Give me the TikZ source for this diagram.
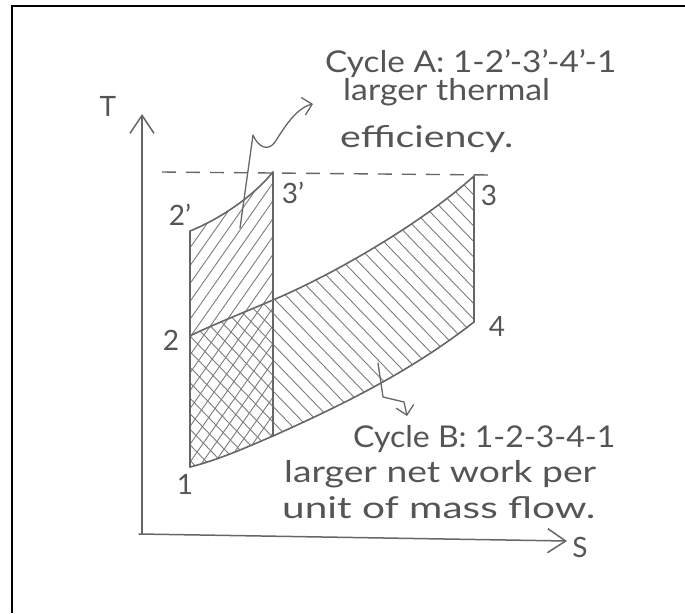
\documentclass[tikz,border=0pt]{standalone}
\usepackage{fontspec}
\setmainfont{Lato}
\usetikzlibrary{arrows.meta}
\definecolor{ink}{HTML}{666666}
\definecolor{txtc}{HTML}{555555}
\definecolor{hatch}{HTML}{7C7C7C}
\newcommand{\hw}[2]{\resizebox{#1}{\height}{#2}}
\begin{document}
\begin{tikzpicture}[x=1pt,y=-1pt,
  curve/.style={draw=ink,line width=1.6pt,line join=round,line cap=round},
  axisline/.style={draw=ink,line width=1.5pt,line cap=round,-{Straight Barb[length=18pt,width=24pt,line width=1.5pt]}},
  pointer/.style={draw=ink,line width=1.3pt,line join=round,line cap=round,-{Straight Barb[length=9pt,width=18pt,line width=1.3pt]}},
  note/.style={inner sep=0pt,text=txtc,anchor=base west,font=\fontsize{30}{32}\selectfont},
  lbl/.style={inner sep=0pt,text=txtc,font=\fontsize{28}{30}\selectfont},
  hatchline/.style={draw=hatch,line width=0.9pt}
]
\useasboundingbox (0,0) rectangle (685,613);
% frame (cropped)
\draw[line width=2.6pt,black] (12,613) -- (12,6) -- (685,6);

% key points
\coordinate (o) at (142,534);
\coordinate (oS) at (139,534);
\coordinate (tT) at (142,114);
\coordinate (tS) at (567,541);
\coordinate (p1) at (190,467);
\coordinate (p2) at (190,336);
\coordinate (p2p) at (190,231);
\coordinate (p3p) at (273,172);
\coordinate (q) at (273,300);
\coordinate (r) at (273,436);
\coordinate (p3) at (474,176);
\coordinate (p4) at (474,322);
\coordinate (d0) at (162,172);
\coordinate (d1) at (490,175);

% hatching of cycle A (/)
\begin{scope}
\clip (p1) -- (p2p) .. controls (215,221) and (250,200) .. (p3p) -- (r)
   .. controls (245,448) and (218,460) .. (p1) -- cycle;
\foreach \x in {-60,-47.5,...,290} {
  \draw[hatchline] (\x,480) -- ({\x+224},160);
}
\end{scope}
% hatching of cycle B (\)
\begin{scope}
\clip (p1) -- (p2) .. controls (205,328) and (245,312) .. (q)
   .. controls (330,276) and (420,225) .. (p3) -- (p4)
   .. controls (410,372) and (340,406) .. (r)
   .. controls (245,448) and (218,460) .. (p1) -- cycle;
\foreach \x in {-160,-145,...,490} {
  \draw[hatchline] (\x,160) -- ({\x+309},480);
}
\end{scope}

% axes
\draw[axisline] (o) -- (tT);
\draw[axisline] (oS) -- (tS);

% dashed line
\draw[ink,line width=1.4pt,dash pattern=on 14pt off 10pt] (d0) -- (d1);

% cycle outlines
\draw[curve] (p1) -- (p2p);
\draw[curve] (p2p) .. controls (215,221) and (250,200) .. (p3p);
\draw[curve] (p3p) -- (r);
\draw[curve] (p2) .. controls (205,328) and (245,312) .. (q)
   .. controls (330,276) and (420,225) .. (p3);
\draw[curve] (p3) -- (p4);
\draw[curve] (p1) .. controls (218,460) and (245,448) .. (r)
   .. controls (340,406) and (410,372) .. (p4);

% point labels
\node[lbl] (lT) at (108,106) {T};
\node[lbl] (lS) at (580,547) {S};
\node[lbl] (l2p) at (180,215) {2'};
\node[lbl] (l3p) at (293,193) {3'};
\node[lbl] (l3) at (489,195) {3};
\node[lbl] (l2) at (171,340) {2};
\node[lbl] (l1) at (185,484) {1};
\node[lbl] (l4) at (497,326) {4};

% annotations
\node[note] (cA) at (325,72) {\hw{291pt}{Cycle A: 1-2'-3'-4'-1}};
\node[note] (lt) at (343,100) {\hw{207pt}{larger thermal}};
\node[note] (ef) at (340,147) {\hw{173pt}{efficiency.}};
\node[note] (cB) at (353,447) {\hw{262pt}{Cycle B: 1-2-3-4-1}};
\node[note] (ln) at (284,482) {\hw{312pt}{larger net work per}};
\node[note] (um) at (282,518) {\hw{313pt}{unit of mass flow.}};

% pointers
\coordinate (a0) at (240,228);
\coordinate (a1) at (313,104);
\draw[pointer] (a0) -- (253,135) .. controls (258,147) and (268,152) .. (275,142)
   .. controls (284,128) and (296,108) .. (a1);
\coordinate (b0) at (378,363);
\coordinate (b1) at (407,416);
\draw[pointer] (b0) -- (383,397) -- (404,402) -- (b1);
\end{tikzpicture}
\end{document}
